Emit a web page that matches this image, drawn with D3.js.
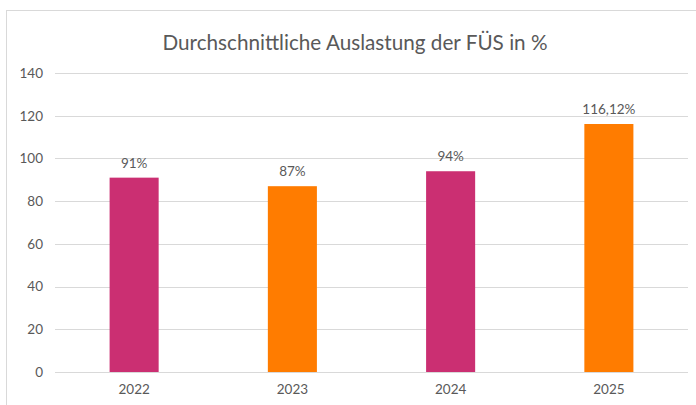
<!DOCTYPE html>
<html>
<head>
<meta charset="utf-8">
<script src="https://cdn.jsdelivr.net/npm/d3@7"></script>
<style>
  body { margin: 0; background: #fff; }
  text { font-family: Lato, "Open Sans", sans-serif; }
</style>
</head>
<body>
<svg id="chart"></svg>
<script>
var years = ["2022", "2023", "2024", "2025"];
var values = [91, 87, 94, 116.12];
var valueLabels = ["91%", "87%", "94%", "116,12%"];
var barColors = ["#CB2F72", "#FF7C00", "#CB2F72", "#FF7C00"];
var yTicks = [0, 20, 40, 60, 80, 100, 120, 140];

var dimensions = {
  width: 696,
  height: 405,
  margin: { top: 73, bottom: 33, right: 8, left: 55 }
}

var svg = d3.select("#chart")
  .attr("width", dimensions.width)
  .attr("height", dimensions.height)

// chart frame
svg.append("rect")
  .attr("x", 6.5)
  .attr("y", 10.5)
  .attr("width", 700)
  .attr("height", 420)
  .attr("fill", "#fff")
  .attr("stroke", "#d9d9d9")

svg.append("text")
  .text("Durchschnittliche Auslastung der FÜS in %")
  .attr("x", 355)
  .attr("y", 50)
  .attr("text-anchor", "middle")
  .style("font-size", "20.7px")
  .style("fill", "#595959")

var xScale = d3.scaleBand()
  .domain(years)
  .range([dimensions.margin.left, dimensions.width - dimensions.margin.right])

var yScale = d3.scaleLinear()
  .domain([0, 140])
  .range([dimensions.height - dimensions.margin.bottom, dimensions.margin.top])

// gridlines
svg.append("g")
  .selectAll("line")
  .data(yTicks)
  .join("line")
  .attr("x1", dimensions.margin.left)
  .attr("x2", dimensions.width - dimensions.margin.right)
  .attr("y1", d => Math.round(yScale(d)) + 0.5)
  .attr("y2", d => Math.round(yScale(d)) + 0.5)
  .attr("stroke", "#d9d9d9")
  .attr("stroke-width", 1)

var yAxis = d3.axisLeft(yScale)
  .tickValues(yTicks)
  .tickSize(0)
  .tickPadding(12)
svg.append("g")
  .attr("transform", `translate(${dimensions.margin.left}, 0)`)
  .call(yAxis)
  .call(g => g.select(".domain").remove())
  .call(g => g.selectAll("text")
    .style("font-size", "13.5px")
    .style("font-family", "Lato, sans-serif")
    .attr("fill", "#595959"))

var xAxis = d3.axisBottom(xScale).tickSize(0).tickPadding(12)
svg.append("g")
  .attr("transform", `translate(0, ${yScale(0)})`)
  .call(xAxis)
  .call(g => g.select(".domain").remove())
  .call(g => g.selectAll("text")
    .style("font-size", "13.5px")
    .style("font-family", "Lato, sans-serif")
    .attr("fill", "#595959"))

var barWidth = xScale.bandwidth() * 0.31

svg.append("g")
  .selectAll("rect")
  .data(values)
  .join("rect")
  .attr("x", (d, i) => xScale(years[i]) + xScale.bandwidth() / 2 - barWidth / 2)
  .attr("y", d => yScale(d))
  .attr("width", barWidth)
  .attr("height", d => yScale(0) - yScale(d))
  .attr("fill", (d, i) => barColors[i])

svg.append("g")
  .selectAll("text")
  .data(values)
  .join("text")
  .text((d, i) => valueLabels[i])
  .attr("x", (d, i) => xScale(years[i]) + xScale.bandwidth() / 2)
  .attr("y", d => yScale(d) - 10)
  .attr("text-anchor", "middle")
  .style("font-size", "13.5px")
  .style("fill", "#595959")
</script>
</body>
</html>
